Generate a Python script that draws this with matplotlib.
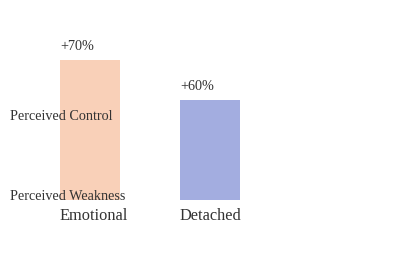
import matplotlib
matplotlib.use("Agg")
import matplotlib.pyplot as plt

categories = ["Emotional", "Detached"]
values = [70, 60]
value_labels = ["+70%", "+60%"]
colors = ["#F9D0B8", "#A3ADE0"]
axis_labels = ["Perceived Control", "Perceived Weakness"]

plt.rcParams['font.family'] = ['Liberation Serif', 'DejaVu Serif']
TXT = "#333333"

fig = plt.figure(figsize=(4.2, 2.6), dpi=100)
W, H = 420, 260
ax = fig.add_axes([30 / W, (H - 200) / H, 240 / W, 180 / H])
base = 35
ax.set_xlim(-0.5, 1.5)
ax.set_ylim(base, 80)
xs = list(range(len(categories)))
ax.bar(xs, [v - base for v in values], bottom=base, width=0.5, color=colors)
for x, v, lab, cat in zip(xs, values, value_labels, categories):
    ax.text(x - 0.25, v + 13.5 / 4, lab, ha="left", va="center", fontsize=10.2, color=TXT)
    ax.text(x - 0.25, base - 16 / 4, cat, ha="left", va="center", fontsize=11.8, color=TXT)
ax.axis("off")

fig.text(10 / W, (H - 116) / H, axis_labels[0], ha="left", va="center", fontsize=10.2, color=TXT)
fig.text(10 / W, (H - 196) / H, axis_labels[1], ha="left", va="center", fontsize=10.2, color=TXT)

fig.savefig("out.png", dpi=100)
